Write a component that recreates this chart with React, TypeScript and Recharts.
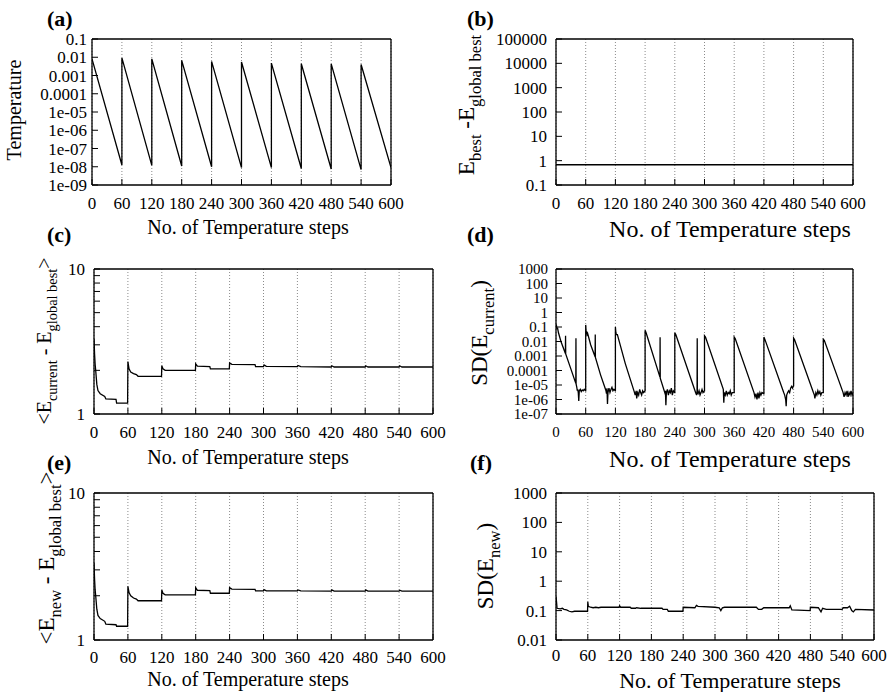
import React from "react";
import { LineChart, Line, XAxis, YAxis, CartesianGrid } from "recharts";

const W = 893;
const H = 692;
const SERIF = "Liberation Serif, DejaVu Serif, serif";

const stepTicks = [0, 60, 120, 180, 240, 300, 360, 420, 480, 540, 600];

// (a) temperature
const tempX = [0, 60, 60, 120, 120, 180, 180, 240, 240, 300, 300, 360, 360, 420, 420, 480, 480, 540, 540, 600];
const tempY = [0.0081, 1.25e-8, 0.0092, 1.2e-8, 0.0082, 1.1e-8, 0.0068, 1e-8, 0.0059, 9e-9, 0.0055, 9e-9, 0.0048, 8e-9, 0.0044, 7.5e-9, 0.0043, 7e-9, 0.004, 9e-9];
const tempTicks = [1e-9, 1e-8, 1e-7, 1e-6, 1e-5, 1e-4, 1e-3, 1e-2, 1e-1];

// (b) best energy gap
const bestX = [0, 60, 120, 180, 240, 300, 360, 420, 480, 540, 600];
const bestY = [0.68, 0.68, 0.68, 0.68, 0.68, 0.68, 0.68, 0.68, 0.68, 0.68, 0.68];
const bestTicks = [0.1, 1, 10, 100, 1000, 10000, 100000];

// (c) <E_current - E_global best>
const curX = [0, 1, 2, 3, 5, 7, 11, 19, 21, 39, 40, 59.5, 60, 62, 65, 70, 75, 78, 119.5, 120, 122, 126, 179.5, 180, 183, 205, 206, 239.5, 240, 244, 285, 286, 300, 301, 305, 360, 361, 366, 420, 421, 425, 480, 481, 485, 540, 541, 545, 600];
const curY = [3.3, 2.6, 2.2, 2.0, 1.6, 1.45, 1.38, 1.32, 1.27, 1.26, 1.19, 1.19, 2.3, 2.05, 1.95, 1.9, 1.87, 1.82, 1.82, 2.15, 2.05, 2.0, 2.0, 2.22, 2.14, 2.12, 2.05, 2.05, 2.25, 2.2, 2.19, 2.12, 2.12, 2.18, 2.13, 2.12, 2.16, 2.12, 2.11, 2.15, 2.11, 2.11, 2.15, 2.11, 2.11, 2.15, 2.11, 2.11];
const meanTicks = [1, 2, 3, 4, 5, 6, 7, 8, 9, 10];

// (d) SD(E_current)
const sdCurX = [
  0, 1, 2, 3, 5, 10, 19, 19.3, 19.6, 30, 40, 40.3, 40.6, 42, 43, 44, 45, 46, 47, 49, 51, 53, 55, 57, 59.7,
  60, 60, 61, 62, 63, 64, 70, 79, 79.3, 79.6, 90, 101, 102, 103, 104, 105, 107, 109, 111, 113, 115, 117, 119.7,
  120, 120, 121, 122, 124, 140, 158, 160, 162, 163, 165, 167, 169, 171, 173, 175, 177, 179.7,
  180, 180, 182, 210, 210.3, 210.6, 220, 221, 222, 223, 225, 227, 229, 231, 233, 235, 237, 239.7,
  240, 240, 242, 282, 284, 285, 285.3, 285.6, 287, 289, 291, 293, 295, 297, 299.7,
  300, 300, 302, 338, 339, 340, 342, 344, 346, 348, 350, 352, 354, 356, 359.7,
  360, 360, 362, 400, 402, 404, 406, 408, 410, 412, 414, 416, 419.7,
  420, 420, 422, 460, 462, 464, 465, 466, 468, 470, 472, 474, 476, 478, 479.7,
  480, 480, 482, 520, 522, 523, 525, 527, 529, 531, 533, 535, 537, 539.7,
  540, 540, 542, 580, 582, 584, 586, 588, 590, 592, 594, 596, 598, 600,
];
const sdCurY = [
  0.1, 0.12, 0.07, 0.09, 0.04, 0.01, 1.5e-3, 0.025, 1.4e-3, 1.3e-4, 1.3e-5, 0.017, 1.2e-5, 7e-6, 4e-6, 5e-6, 3e-6, 8e-7, 4e-6, 5e-6, 3.5e-6, 4.5e-6, 4e-6, 5e-6, 4e-6,
  4e-6, 0.14, 0.04, 0.05, 0.03, 0.035, 0.006, 9e-4, 0.03, 8e-4, 5e-5, 4e-6, 2.5e-6, 6e-6, 5e-7, 3e-6, 6e-6, 3e-6, 5e-6, 7e-6, 4e-6, 5e-6, 4e-6,
  4e-6, 0.1, 0.04, 0.03, 0.03, 3e-4, 3.5e-6, 2e-6, 4e-6, 1.2e-6, 3e-6, 2e-6, 5e-6, 3e-6, 2e-6, 4e-6, 3e-6, 4e-6,
  4e-6, 0.06, 0.04, 3.5e-5, 0.02, 3e-5, 2.8e-6, 4e-6, 4e-7, 3e-6, 5e-6, 2e-6, 4e-6, 3e-6, 6e-6, 2e-6, 4e-6, 3e-6,
  3e-6, 0.04, 0.03, 3e-6, 2e-6, 4e-6, 0.017, 3e-6, 2.5e-6, 4e-6, 2e-6, 3e-6, 5e-6, 3e-6, 4e-6,
  4e-6, 0.025, 0.02, 5e-6, 6e-7, 3e-6, 2e-6, 4e-6, 2e-6, 3e-6, 2.5e-6, 4e-6, 2e-6, 3e-6, 3e-6,
  3e-6, 0.02, 0.016, 3e-6, 1.5e-6, 2.5e-6, 1e-6, 3e-6, 1.2e-6, 3e-6, 2e-6, 3e-6, 2.5e-6,
  2.5e-6, 0.02, 0.014, 3e-6, 2e-6, 1e-6, 3.5e-7, 2e-6, 3e-6, 4e-6, 3e-6, 6e-6, 8e-6, 6e-6, 9e-6,
  9e-6, 0.017, 0.013, 3e-6, 2e-6, 1.2e-6, 3e-6, 2e-6, 4e-6, 2.5e-6, 3.5e-6, 2e-6, 3e-6, 3e-6,
  3e-6, 0.014, 0.012, 3e-6, 1.5e-6, 3e-6, 2e-6, 4e-6, 1.5e-6, 3e-6, 2e-6, 4e-6, 2e-6, 3e-6,
];
const sdCurTicks = [1e-7, 1e-6, 1e-5, 1e-4, 1e-3, 1e-2, 1e-1, 1, 10, 100, 1000];

// (e) <E_new - E_global best>
const newX = curX;
const newY = [3.35, 2.6, 2.2, 2.0, 1.62, 1.47, 1.4, 1.34, 1.28, 1.27, 1.24, 1.24, 2.32, 2.1, 2.0, 1.93, 1.9, 1.85, 1.85, 2.19, 2.08, 2.03, 2.03, 2.27, 2.18, 2.17, 2.08, 2.08, 2.27, 2.22, 2.21, 2.16, 2.16, 2.2, 2.16, 2.16, 2.19, 2.16, 2.15, 2.19, 2.15, 2.15, 2.19, 2.15, 2.15, 2.18, 2.15, 2.15];

// (f) SD(E_new)
const sdNewX = [0, 1, 2, 8, 12, 15, 20, 25, 30, 35, 59.5, 60, 61, 65, 70, 75, 80, 85, 119, 120, 122, 140, 142, 150, 152, 160, 200, 202, 210, 212, 239.5, 240, 262, 265, 268, 300, 308, 311, 314, 318, 378, 382, 388, 392, 440, 442, 445, 479.5, 480, 495, 500, 503, 510, 540, 542, 550, 554, 558, 561, 565, 600];
const sdNewY = [0.3, 0.2, 0.12, 0.115, 0.12, 0.11, 0.105, 0.095, 0.09, 0.095, 0.095, 0.2, 0.14, 0.13, 0.125, 0.13, 0.125, 0.13, 0.13, 0.145, 0.13, 0.13, 0.12, 0.12, 0.125, 0.12, 0.12, 0.11, 0.11, 0.095, 0.095, 0.13, 0.125, 0.15, 0.14, 0.13, 0.125, 0.1, 0.125, 0.13, 0.13, 0.11, 0.11, 0.125, 0.125, 0.145, 0.105, 0.1, 0.13, 0.125, 0.09, 0.12, 0.11, 0.11, 0.125, 0.125, 0.14, 0.1, 0.09, 0.11, 0.105];
const sdNewTicks = [0.01, 0.1, 1, 10, 100, 1000];

const fmtLog = (v: number) => {
  const e = Math.round(Math.log10(v));
  if (e < -4) return `1e-${String(-e).padStart(2, "0")}`;
  if (e < 0) return v.toFixed(-e);
  return String(Math.round(v));
};
const fmtDecade = (v: number) => (v === 1 || v === 10 ? String(v) : "");

type Seg = { t: string; sub?: boolean };

type PanelProps = {
  xs: number[];
  ys: number[];
  yDomain: [number, number];
  yTicks: number[];
  fmt: (v: number) => string;
  box: { l: number; r: number; t: number; b: number };
  tag: string;
  tagX: number;
  tagY: number;
  yTitle: Seg[];
  yTitleX: number;
  yTitleY: number;
  yTitleSize: number;
  xTitleX: number;
  xTitleY: number;
  xTitleSize: number;
  tickFont: number;
  yGap: number;
  xGap: number;
};

function Panel(p: PanelProps) {
  const data = p.xs.map((x, i) => ({ x, y: p.ys[i] }));
  const { l, r, t, b } = p.box;
  const tickStyle = { fill: "#000", fontSize: p.tickFont, fontFamily: SERIF };
  const axisLine = { stroke: "#000", strokeWidth: 1.3 };
  const tickLine = { stroke: "#000", strokeWidth: 1 };
  const subShift = p.yTitleSize * 0.32;

  const xTitle = () => (
    <g>
      <text x={p.tagX} y={p.tagY} style={{ fontFamily: SERIF }} fontWeight="bold" fontSize={22} fill="#000">
        {p.tag}
      </text>
      <text x={p.xTitleX} y={p.xTitleY} textAnchor="middle" style={{ fontFamily: SERIF }} fontSize={p.xTitleSize} fill="#000">
        No. of Temperature steps
      </text>
    </g>
  );

  const yTitle = () => {
    let shifted = false;
    return (
      <text
        x={p.yTitleX}
        y={p.yTitleY}
        transform={`rotate(-90 ${p.yTitleX} ${p.yTitleY})`}
        textAnchor="middle"
        style={{ fontFamily: SERIF }}
        fontSize={p.yTitleSize}
        fill="#000"
      >
        {p.yTitle.map((s, i) => {
          let dy = 0;
          if (s.sub && !shifted) {
            dy = subShift;
            shifted = true;
          } else if (!s.sub && shifted) {
            dy = -subShift;
            shifted = false;
          }
          return (
            <tspan key={i} dy={dy} fontSize={s.sub ? p.yTitleSize * 0.72 : p.yTitleSize}>
              {s.t}
            </tspan>
          );
        })}
      </text>
    );
  };

  return (
    <LineChart width={W} height={H} data={data} margin={{ top: 0, right: 0, bottom: 0, left: 0 }}>
      <CartesianGrid horizontal={false} stroke="#8a8a8a" strokeDasharray="1 2" />
      <XAxis
        dataKey="x"
        type="number"
        domain={[0, 600]}
        ticks={stepTicks}
        interval={0}
        height={H - b}
        tickSize={-6}
        tickMargin={p.xGap}
        tick={tickStyle}
        axisLine={axisLine}
        tickLine={tickLine}
        allowDataOverflow
        label={xTitle}
      />
      <XAxis
        xAxisId="top"
        orientation="top"
        type="number"
        domain={[0, 600]}
        ticks={stepTicks}
        interval={0}
        height={t}
        tickSize={-6}
        tick={false}
        axisLine={axisLine}
        tickLine={tickLine}
        allowDataOverflow
      />
      <YAxis
        type="number"
        scale="log"
        domain={p.yDomain}
        ticks={p.yTicks}
        interval={0}
        width={l}
        tickSize={-6}
        tickMargin={p.yGap + 6}
        tick={tickStyle}
        tickFormatter={p.fmt}
        axisLine={axisLine}
        tickLine={tickLine}
        allowDataOverflow
        label={yTitle}
      />
      <YAxis
        yAxisId="right"
        orientation="right"
        type="number"
        scale="log"
        domain={p.yDomain}
        ticks={p.yTicks}
        interval={0}
        width={W - r}
        tickSize={-6}
        tick={false}
        axisLine={axisLine}
        tickLine={tickLine}
        allowDataOverflow
      />
      <Line
        type="linear"
        dataKey="y"
        stroke="#000"
        strokeWidth={1.3}
        dot={false}
        isAnimationActive={false}
      />
    </LineChart>
  );
}

const panels: PanelProps[] = [
  {
    xs: tempX, ys: tempY, yDomain: [1e-9, 0.1], yTicks: tempTicks, fmt: fmtLog,
    box: { l: 92, r: 391, t: 39, b: 185 },
    tag: "(a)", tagX: 47, tagY: 26,
    yTitle: [{ t: "Temperature" }], yTitleX: 21, yTitleY: 110, yTitleSize: 20,
    xTitleX: 248, xTitleY: 234, xTitleSize: 20, tickFont: 17, yGap: 5, xGap: 18,
  },
  {
    xs: bestX, ys: bestY, yDomain: [0.1, 100000], yTicks: bestTicks, fmt: fmtLog,
    box: { l: 556, r: 853, t: 39, b: 185 },
    tag: "(b)", tagX: 467, tagY: 26,
    yTitle: [{ t: "E" }, { t: "best", sub: true }, { t: " -E" }, { t: "global best", sub: true }],
    yTitleX: 474, yTitleY: 105, yTitleSize: 23,
    xTitleX: 730, xTitleY: 237, xTitleSize: 24, tickFont: 17, yGap: 9, xGap: 18,
  },
  {
    xs: curX, ys: curY, yDomain: [1, 10], yTicks: meanTicks, fmt: fmtDecade,
    box: { l: 94, r: 433, t: 269, b: 414 },
    tag: "(c)", tagX: 47, tagY: 242,
    yTitle: [{ t: "<E" }, { t: "current", sub: true }, { t: " - E" }, { t: "global best", sub: true }, { t: ">" }],
    yTitleX: 51, yTitleY: 341, yTitleSize: 20,
    xTitleX: 248, xTitleY: 464, xTitleSize: 20, tickFont: 17, yGap: 9, xGap: 18,
  },
  {
    xs: sdCurX, ys: sdCurY, yDomain: [1e-7, 1000], yTicks: sdCurTicks, fmt: fmtLog,
    box: { l: 556, r: 853, t: 269, b: 414 },
    tag: "(d)", tagX: 467, tagY: 242,
    yTitle: [{ t: "SD(E" }, { t: "current", sub: true }, { t: ")" }],
    yTitleX: 487, yTitleY: 333, yTitleSize: 23,
    xTitleX: 730, xTitleY: 467, xTitleSize: 24, tickFont: 15, yGap: 8, xGap: 18,
  },
  {
    xs: newX, ys: newY, yDomain: [1, 10], yTicks: meanTicks, fmt: fmtDecade,
    box: { l: 94, r: 433, t: 493, b: 640 },
    tag: "(e)", tagX: 47, tagY: 470,
    yTitle: [{ t: "<E" }, { t: "new", sub: true }, { t: " - E" }, { t: "global best", sub: true }, { t: ">" }],
    yTitleX: 54, yTitleY: 558, yTitleSize: 23,
    xTitleX: 248, xTitleY: 686, xTitleSize: 20, tickFont: 17, yGap: 9, xGap: 17,
  },
  {
    xs: sdNewX, ys: sdNewY, yDomain: [0.01, 1000], yTicks: sdNewTicks, fmt: fmtLog,
    box: { l: 556, r: 874, t: 493, b: 640 },
    tag: "(f)", tagX: 470, tagY: 470,
    yTitle: [{ t: "SD(E" }, { t: "new", sub: true }, { t: ")" }],
    yTitleX: 493, yTitleY: 566, yTitleSize: 23,
    xTitleX: 730, xTitleY: 688, xTitleSize: 22, tickFont: 17, yGap: 9, xGap: 15,
  },
];

export default function App() {
  return (
    <div style={{ position: "absolute", left: 0, top: 0, width: W, height: H, background: "#fff" }}>
      {panels.map((p) => (
        <div key={p.tag} style={{ position: "absolute", left: 0, top: 0 }}>
          <Panel {...p} />
        </div>
      ))}
    </div>
  );
}
